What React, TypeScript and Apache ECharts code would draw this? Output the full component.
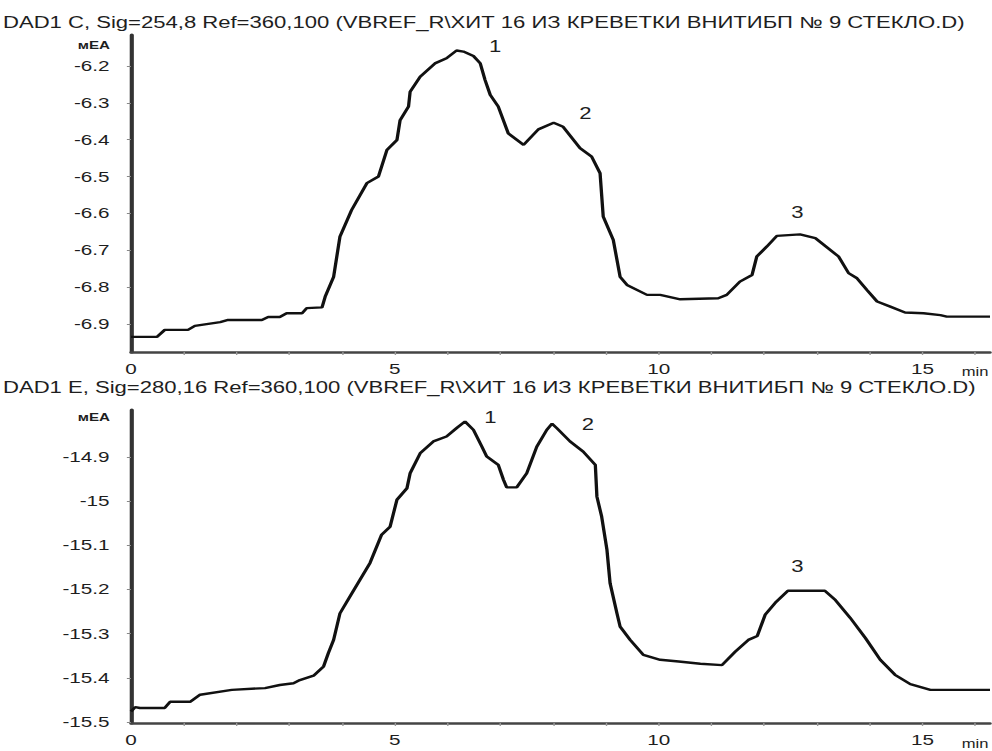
import React, { useEffect, useRef } from "react";
import * as echarts from "echarts";

// ---- Data ----
const TOP_TITLE = "DAD1 C, Sig=254,8 Ref=360,100 (VBREF_R\\ХИТ 16 ИЗ КРЕВЕТКИ ВНИТИБП № 9 СТЕКЛО.D)";
const BOT_TITLE = "DAD1 E, Sig=280,16 Ref=360,100 (VBREF_R\\ХИТ 16 ИЗ КРЕВЕТКИ ВНИТИБП № 9 СТЕКЛО.D)";
const Y_UNIT = "мEA";
const X_UNIT = "min";

const X_LABELS = [0, 5, 10, 15];
const X_MINOR = [1, 2, 3, 4, 5, 6, 7, 8, 9, 10, 11, 12, 13, 14, 15, 16];
const TOP_Y_LABELS = [-6.9, -6.8, -6.7, -6.6, -6.5, -6.4, -6.3, -6.2];
const BOT_Y_LABELS = [-15.5, -15.4, -15.3, -15.2, -15.1, -15, -14.9];

const TOP_T = [0, 0.49, 0.64, 1.08, 1.21, 1.69, 1.84, 2.48, 2.6, 2.82, 2.95, 3.24, 3.33, 3.62, 3.68, 3.84, 3.96, 4.18, 4.47, 4.69, 4.85, 5.04, 5.1, 5.26, 5.29, 5.48, 5.76, 5.98, 6.17, 6.3, 6.49, 6.62, 6.71, 6.81, 6.96, 7.15, 7.44, 7.72, 8.01, 8.19, 8.51, 8.73, 8.89, 8.95, 9.14, 9.27, 9.4, 9.78, 10.03, 10.41, 11.13, 11.29, 11.54, 11.77, 11.86, 12.05, 12.24, 12.68, 12.97, 13.41, 13.6, 13.76, 13.95, 14.14, 14.39, 14.67, 15.02, 15.34, 15.46, 16.28];
const TOP_V = [-6.935, -6.935, -6.916, -6.916, -6.905, -6.895, -6.889, -6.889, -6.881, -6.881, -6.871, -6.871, -6.857, -6.855, -6.826, -6.772, -6.663, -6.591, -6.518, -6.5, -6.428, -6.401, -6.347, -6.31, -6.27, -6.229, -6.193, -6.179, -6.158, -6.161, -6.173, -6.193, -6.238, -6.279, -6.31, -6.383, -6.414, -6.372, -6.354, -6.365, -6.423, -6.446, -6.491, -6.609, -6.672, -6.772, -6.794, -6.821, -6.821, -6.833, -6.83, -6.821, -6.785, -6.767, -6.717, -6.69, -6.661, -6.657, -6.667, -6.717, -6.762, -6.776, -6.808, -6.839, -6.853, -6.869, -6.871, -6.876, -6.88, -6.88];

const BOT_T = [0, 0.08, 0.17, 0.64, 0.74, 1.12, 1.31, 1.91, 2.54, 2.82, 3.08, 3.2, 3.46, 3.65, 3.74, 3.84, 3.96, 4.15, 4.34, 4.53, 4.75, 4.91, 5.04, 5.23, 5.29, 5.48, 5.73, 5.98, 6.17, 6.33, 6.49, 6.65, 6.74, 6.96, 7.06, 7.12, 7.31, 7.5, 7.69, 7.88, 7.98, 8.07, 8.32, 8.57, 8.8, 8.83, 8.92, 9.02, 9.08, 9.21, 9.27, 9.46, 9.71, 10.03, 10.38, 10.79, 11.2, 11.45, 11.7, 11.87, 12.02, 12.21, 12.45, 13.15, 13.35, 13.63, 13.92, 14.2, 14.48, 14.77, 15.15, 16.28];
const BOT_V = [-15.476, -15.466, -15.468, -15.468, -15.454, -15.454, -15.438, -15.427, -15.423, -15.416, -15.412, -15.405, -15.395, -15.374, -15.344, -15.314, -15.254, -15.216, -15.178, -15.14, -15.076, -15.058, -14.997, -14.971, -14.937, -14.892, -14.865, -14.854, -14.835, -14.82, -14.839, -14.877, -14.899, -14.918, -14.952, -14.969, -14.969, -14.937, -14.877, -14.839, -14.825, -14.835, -14.865, -14.888, -14.918, -14.99, -15.035, -15.11, -15.186, -15.254, -15.284, -15.314, -15.348, -15.359, -15.363, -15.368, -15.371, -15.341, -15.314, -15.305, -15.257, -15.23, -15.203, -15.203, -15.224, -15.264, -15.31, -15.359, -15.393, -15.414, -15.427, -15.427];

const PEAK_NAMES = ["1", "2", "3"];
const TOP_PEAK_T = [6.9, 8.61, 12.63];
const TOP_PEAK_V = [-6.148, -6.328, -6.599];
const BOT_PEAK_T = [6.81, 8.66, 12.63];
const BOT_PEAK_V = [-14.812, -14.828, -15.149];

// ---- Layout (the scan is stretched horizontally) ----
const SX = 1.38;
const FULL_W = 992;
const FULL_H = 751;
const INNER_W = FULL_W / SX;
const px = (x: number) => x / SX;

const FONT = "Liberation Sans, Arial, sans-serif";
const INK = "#1e1e1e";

function yAxisDef(gridIndex: number, min: number, max: number, labels: number[]) {
  return {
    type: "value",
    gridIndex,
    min,
    max,
    axisLine: { show: true, lineStyle: { color: "#333", width: 3 } },
    axisTick: { show: true, length: 3, customValues: labels, lineStyle: { color: "#888", width: 1 } },
    axisLabel: {
      show: true,
      customValues: labels,
      margin: 15.5,
      color: INK,
      fontSize: 15,
      fontFamily: FONT,
      formatter: (v: number) => String(Math.round(v * 10) / 10),
    },
    splitLine: { show: false },
  };
}

function xAxisDef(gridIndex: number) {
  return {
    type: "value",
    gridIndex,
    min: 0,
    max: 16.28,
    axisLine: { show: true, onZero: false, lineStyle: { color: "#444", width: 2.5 } },
    axisTick: { show: true, length: 3, customValues: X_MINOR, lineStyle: { color: "#999", width: 1 } },
    axisLabel: {
      show: true,
      customValues: X_LABELS,
      margin: 10,
      color: INK,
      fontSize: 15,
      fontFamily: FONT,
    },
    splitLine: { show: false },
  };
}

function peakMarks(ts: number[], vs: number[]) {
  return {
    symbol: "circle",
    symbolSize: 1,
    itemStyle: { color: "rgba(0,0,0,0)" },
    label: { show: true, position: "inside", color: INK, fontSize: 16, fontFamily: FONT, formatter: "{b}" },
    data: PEAK_NAMES.map((n, i) => ({ name: n, coord: [ts[i], vs[i]] })),
  };
}

export default function App() {
  const ref = useRef<HTMLDivElement>(null);

  useEffect(() => {
    if (!ref.current) return;
    const chart = echarts.init(ref.current, null, { renderer: "svg" });
    const topData = TOP_T.map((t, i) => [t, TOP_V[i]]);
    const botData = BOT_T.map((t, i) => [t, BOT_V[i]]);

    const textStyle = (size: number, extra: any = {}) => ({
      fill: INK,
      fontSize: size,
      fontFamily: FONT,
      ...extra,
    });

    chart.setOption({
      animation: false,
      backgroundColor: "#ffffff",
      grid: [
        { left: px(131), top: 35, width: px(859), height: 317, containLabel: false },
        { left: px(131), top: 410, width: px(859), height: 313, containLabel: false },
      ],
      xAxis: [xAxisDef(0), xAxisDef(1)],
      yAxis: [
        yAxisDef(0, -6.976, -6.116, TOP_Y_LABELS),
        yAxisDef(1, -15.502, -14.794, BOT_Y_LABELS),
      ],
      series: [
        {
          type: "line",
          xAxisIndex: 0,
          yAxisIndex: 0,
          data: topData,
          showSymbol: false,
          lineStyle: { color: "#111", width: 2.4 },
          markPoint: peakMarks(TOP_PEAK_T, TOP_PEAK_V),
        },
        {
          type: "line",
          xAxisIndex: 1,
          yAxisIndex: 1,
          data: botData,
          showSymbol: false,
          lineStyle: { color: "#111", width: 2.4 },
          markPoint: peakMarks(BOT_PEAK_T, BOT_PEAK_V),
        },
      ],
      graphic: [
        { type: "text", left: px(3), top: 15, style: textStyle(16, { text: TOP_TITLE }) },
        { type: "text", left: px(3), top: 380, style: textStyle(16, { text: BOT_TITLE }) },
        { type: "text", x: px(110), y: 45, style: textStyle(11, { text: Y_UNIT, align: "right", verticalAlign: "middle", fontWeight: "bold" }) },
        { type: "text", x: px(110), y: 417, style: textStyle(11, { text: Y_UNIT, align: "right", verticalAlign: "middle", fontWeight: "bold" }) },
        { type: "text", x: px(975), y: 372, style: textStyle(12, { text: X_UNIT, align: "center", verticalAlign: "middle" }) },
        { type: "text", x: px(975), y: 744, style: textStyle(12, { text: X_UNIT, align: "center", verticalAlign: "middle" }) },
      ],
    });
    return () => chart.dispose();
  }, []);

  return (
    <div
      ref={ref}
      style={{
        position: "fixed",
        left: 0,
        top: 0,
        width: INNER_W,
        height: FULL_H,
        transform: `scaleX(${SX})`,
        transformOrigin: "0 0",
        background: "#fff",
      }}
    />
  );
}
